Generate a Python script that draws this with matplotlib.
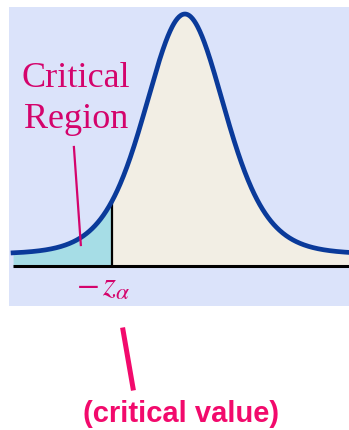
"""Left-tailed critical region sketch: density curve with the tail shaded."""

import math

import matplotlib

matplotlib.use("Agg")
import matplotlib.pyplot as plt
import numpy as np

# curve shape (t-like density, heavier tails than a normal)
DF = 8
TAIL_OFFSET = 0.020  # curve floats a little above the baseline
Z_LEFT, Z_RIGHT = -4.21, 4.02
Z_CRIT = -1.79

REGION_LABEL = ["Critical", "Region"]
CRIT_LABEL = r"$-\,z_\alpha$"
VALUE_LABEL = "(critical value)"

PANEL_BG = "#dbe3fa"
BODY_FILL = "#f2eee4"
TAIL_FILL = "#a6dde6"
CURVE = "#0a3a9a"
MAGENTA = "#d4046c"
PINK = "#f20a6c"


def density(z):
    c = math.gamma((DF + 1) / 2) / (math.sqrt(DF * math.pi) * math.gamma(DF / 2))
    return TAIL_OFFSET + c * (1 + z**2 / DF) ** (-(DF + 1) / 2)


def main() -> None:
    plt.rcParams["mathtext.fontset"] = "stix"
    fig = plt.figure(figsize=(3.49, 4.30), dpi=100, facecolor="white")
    ax = fig.add_axes((0.0258, 0.2893, 0.9742, 0.6944))
    ax.set_facecolor(PANEL_BG)
    ax.set_xlim(-4.31, 4.02)
    ax.set_ylim(-0.063, 0.418)
    ax.set_xticks([])
    ax.set_yticks([])
    for spine in ax.spines.values():
        spine.set_visible(False)

    z = np.linspace(Z_LEFT, Z_RIGHT, 600)
    y = density(z)
    ax.fill_between(z, 0, y, where=z >= Z_CRIT, color=BODY_FILL, lw=0, interpolate=True)
    ax.fill_between(z, 0, y, where=z <= Z_CRIT, color=TAIL_FILL, lw=0, interpolate=True)
    ax.plot([Z_CRIT, Z_CRIT], [0, density(Z_CRIT)], color="black", lw=1.6, zorder=3)
    ax.plot([Z_LEFT, Z_RIGHT], [0, 0], color="black", lw=2.2, zorder=3, solid_capstyle="butt")
    ax.plot(z, y, color=CURVE, lw=3.4, zorder=4)

    # "Critical Region" with pointer into the tail
    ax.text(-2.67, 0.289, REGION_LABEL[0], ha="center", va="baseline",
            fontsize=26, family="Liberation Serif", color=MAGENTA)
    ax.text(-2.67, 0.223, REGION_LABEL[1], ha="center", va="baseline",
            fontsize=26, family="Liberation Serif", color=MAGENTA)
    ax.plot([-2.72, -2.55], [0.1925, 0.0346], color=MAGENTA, lw=1.6, zorder=5)

    ax.text(-2.0, -0.046, CRIT_LABEL, ha="center", va="baseline",
            fontsize=24, color=MAGENTA)

    # annotation below the panel
    fig.add_artist(plt.Line2D([0.3524, 0.3811], [0.2326, 0.0977],
                              transform=fig.transFigure, color=PINK, lw=3.6))
    fig.text(0.5186, 0.0186, VALUE_LABEL, ha="center", va="baseline",
             fontsize=21, fontweight="bold", family="Liberation Sans", color=PINK)

    fig.savefig("out.png", dpi=100, facecolor="white")
    plt.close(fig)


if __name__ == "__main__":
    main()
